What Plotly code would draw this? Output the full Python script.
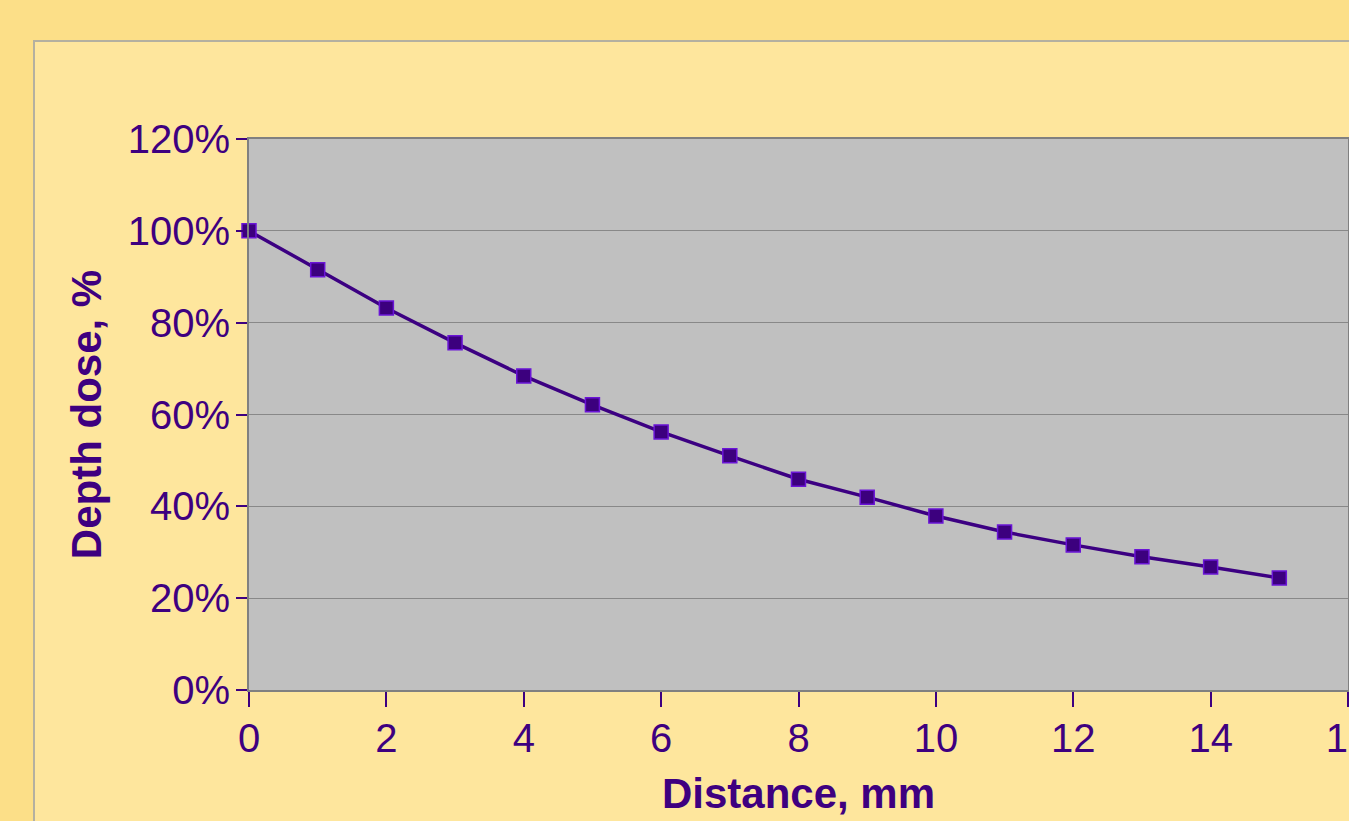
import plotly.graph_objects as go

distance_mm = [0, 1, 2, 3, 4, 5, 6, 7, 8, 9, 10, 11, 12, 13, 14, 15]
depth_dose = [1.00, 0.915, 0.832, 0.756, 0.684, 0.621, 0.562, 0.510, 0.459, 0.420,
              0.379, 0.344, 0.316, 0.290, 0.268, 0.244]
x_ticks = [0, 2, 4, 6, 8, 10, 12, 14, 16]
y_ticks = [0, 0.2, 0.4, 0.6, 0.8, 1.0, 1.2]

W, H = 1349, 821
L, R, T, B = 249, 1, 139, 131
pw, ph = W - L - R, H - T - B

def px_to_paper_x(px):
    return (px - L) / pw

def px_to_paper_y(py):
    return (H - B - py) / ph

TXT = "#3E0080"
FONT = "Liberation Sans, Arial, sans-serif"

fig = go.Figure()
fig.add_trace(go.Scatter(
    x=distance_mm, y=depth_dose, mode="lines+markers",
    line=dict(color="#3C0082", width=3.5),
    marker=dict(symbol="square", size=14, color="#3C007E",
                line=dict(color="#6A14D6", width=1.5)),
    cliponaxis=False, showlegend=False,
))

# inner light panel
fig.add_shape(type="rect", xref="paper", yref="paper", layer="below",
              x0=px_to_paper_x(34), x1=px_to_paper_x(1400),
              y0=px_to_paper_y(900), y1=px_to_paper_y(41),
              fillcolor="#FEE69D", line=dict(color="#B4B0A0", width=2))
# plot area background
fig.add_shape(type="rect", xref="paper", yref="paper", layer="below",
              x0=0, x1=1, y0=0, y1=1,
              fillcolor="#C0C0C0", line=dict(width=0))

fig.update_layout(
    width=W, height=H,
    margin=dict(l=L, r=R, t=T, b=B, autoexpand=False),
    paper_bgcolor="#FCDF88",
    plot_bgcolor="rgba(0,0,0,0)",
    font=dict(family=FONT, color=TXT, size=40),
    xaxis=dict(range=[0, 16], tickvals=x_ticks, ticktext=[str(v) for v in x_ticks],
               ticks="outside", ticklen=15, tickwidth=2, tickcolor=TXT,
               ticklabeloverflow="allow", ticklabelstandoff=-3,
               showline=True, linecolor="#808080", linewidth=2, mirror=True,
               showgrid=False, zeroline=False,
               tickfont=dict(size=40, color=TXT),
               title=dict(text="<b>Distance, mm</b>", font=dict(size=42, color=TXT), standoff=20)),
    yaxis=dict(range=[0, 1.2], tickvals=y_ticks, tickformat=".0%",
               ticks="outside", ticklen=11, tickwidth=2, tickcolor=TXT,
               ticklabelstandoff=-2,
               showline=True, linecolor="#808080", linewidth=2, mirror=True,
               showgrid=True, gridcolor="#888888", gridwidth=1, zeroline=False,
               tickfont=dict(size=40, color=TXT),
               title=dict(text="<b>Depth dose, %</b>", font=dict(size=42, color=TXT), standoff=13)),
)

fig.write_html("out.html")
